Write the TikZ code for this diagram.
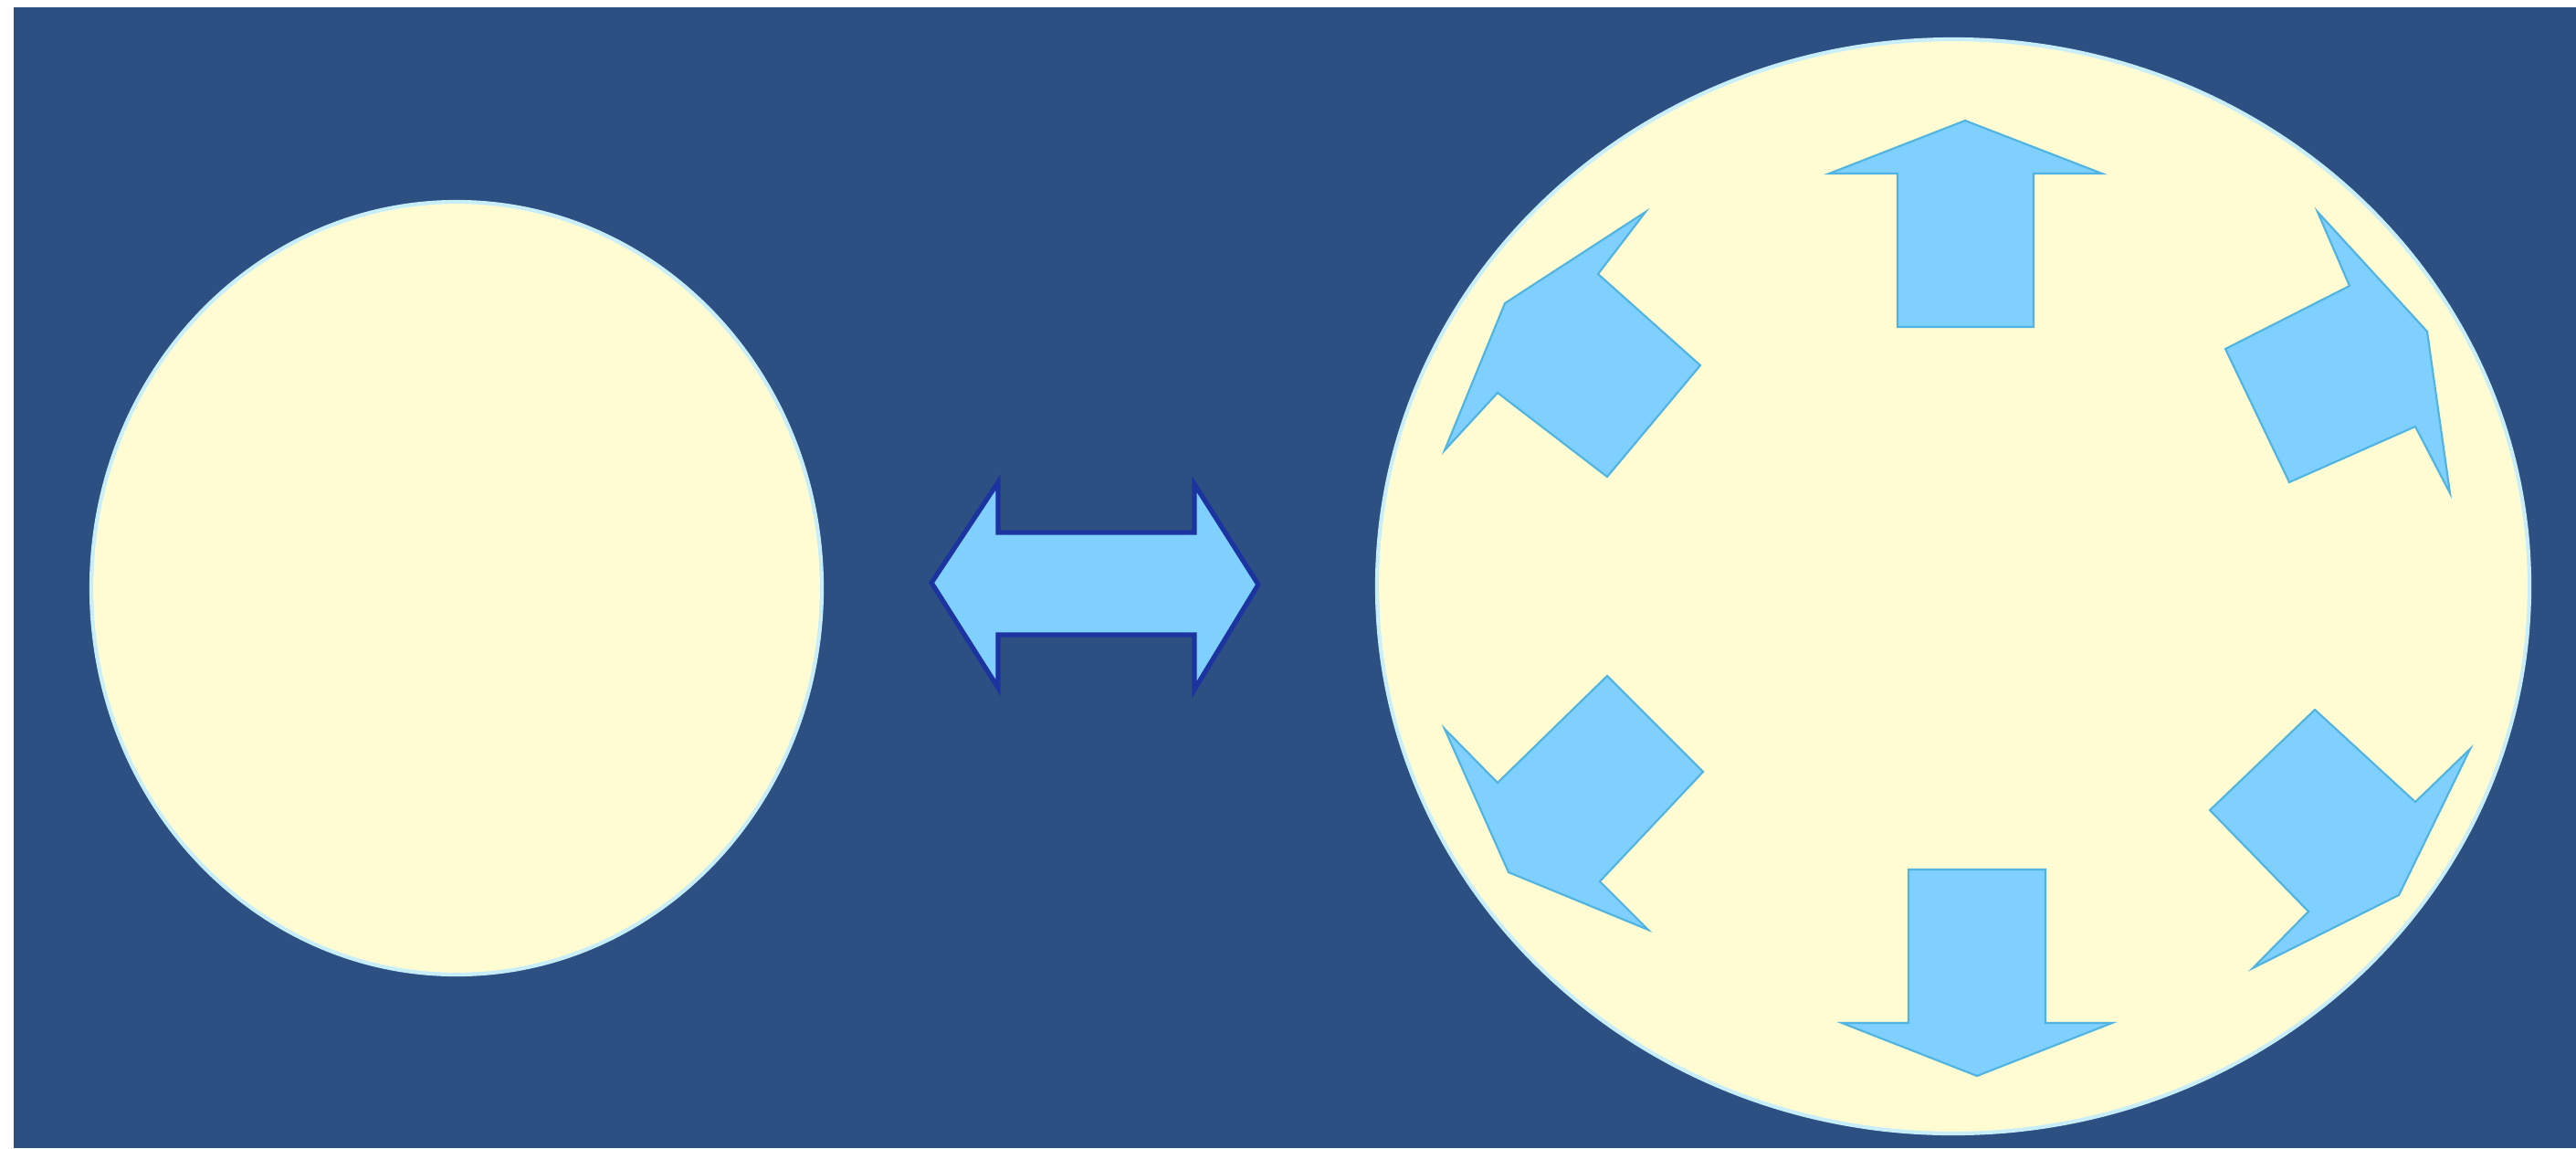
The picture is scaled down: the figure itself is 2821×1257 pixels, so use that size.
\documentclass[tikz,border=0pt]{standalone}
\usepackage{xcolor}
\usetikzlibrary{arrows.meta, positioning}

\definecolor{nightblue}{RGB}{44,80,130}
\definecolor{paleyellow}{RGB}{255,252,212}
\definecolor{glowcyan}{RGB}{200,238,250}
\definecolor{skyblue}{RGB}{127,207,255}
\definecolor{skyedge}{RGB}{80,180,225}
\definecolor{inkblue}{RGB}{28,52,160}

\tikzset{
  bulb/.style={fill=paleyellow, draw=glowcyan, line width=1.2pt},
  pusharrow/.style={fill=skyblue, draw=skyedge, line width=0.6pt, line join=miter},
  swaparrow/.style={fill=skyblue, draw=inkblue, line width=1.5pt, line join=miter}
}

\begin{document}
\begin{tikzpicture}[x=0.01cm, y=-0.01cm]
  % --- Canvas ---
  \useasboundingbox (0,0) rectangle (2821,1257);
  \fill[white] (0,0) rectangle (2821,1257);
  \fill[nightblue] (15,8) rectangle (2821,1257);

  % --- Small body ---
  \draw[bulb] (500,644) ellipse (400 and 423);

  % --- Double arrow ---
  \draw[swaparrow] (1020,638) -- (1093,528) -- (1093,583) -- (1308,583) -- (1308,530)
    -- (1378,640) -- (1308,755) -- (1308,695) -- (1093,695) -- (1093,753) -- cycle;

  % --- Large body ---
  \draw[bulb] (2139,642) ellipse (631 and 599);

  % Up
  \draw[pusharrow] (2152,132) -- (2302,190) -- (2227,190) -- (2227,358) -- (2078,358)
    -- (2078,190) -- (2003,190) -- cycle;
  % Down
  \draw[pusharrow] (2165,1178) -- (2017,1120) -- (2090,1120) -- (2090,952) -- (2240,952)
    -- (2240,1120) -- (2313,1120) -- cycle;
  % Upper left
  \draw[pusharrow] (1648,332) -- (1802,232) -- (1750,300) -- (1862,400) -- (1760,522)
    -- (1640,430) -- (1582,493) -- cycle;
  % Upper right
  \draw[pusharrow] (2658,363) -- (2683,540) -- (2645,467) -- (2507,528) -- (2437,382)
    -- (2573,313) -- (2538,232) -- cycle;
  % Lower left
  \draw[pusharrow] (1652,955) -- (1582,798) -- (1640,857) -- (1760,740) -- (1865,845)
    -- (1752,965) -- (1805,1018) -- cycle;
  % Lower right
  \draw[pusharrow] (2627,980) -- (2467,1060) -- (2528,998) -- (2420,887) -- (2535,777)
    -- (2645,878) -- (2705,820) -- cycle;
\end{tikzpicture}
\end{document}
